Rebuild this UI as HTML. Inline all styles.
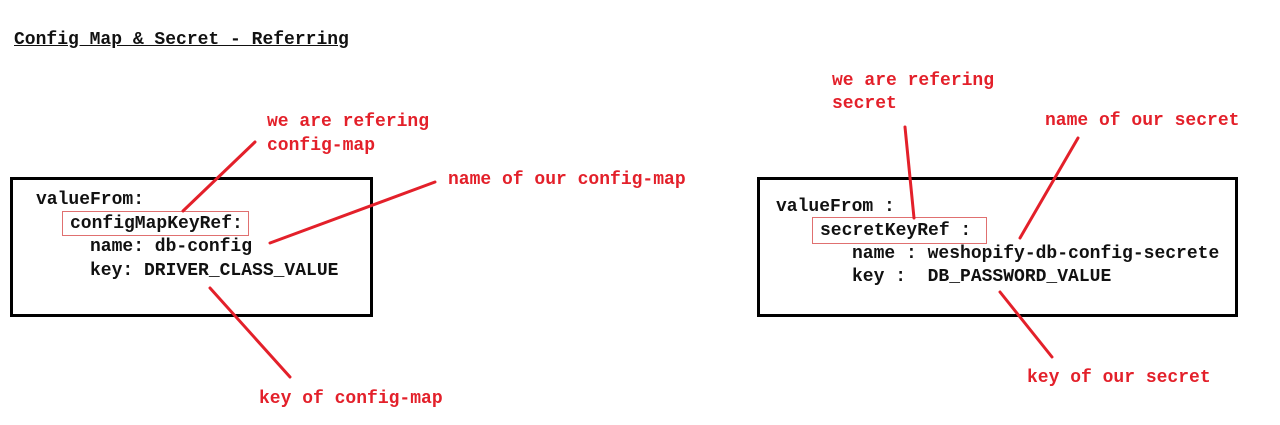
<!DOCTYPE html>
<html><head><style>
body{margin:0;width:1280px;height:425px;background:#fff;position:relative;overflow:hidden;font-family:"Liberation Mono",monospace;font-weight:bold;font-size:18px}
.t{position:absolute;white-space:pre;line-height:20px}
.k{color:#111}
.r{color:#e3202a}
.box{position:absolute;border:3px solid #000;box-sizing:border-box}
.rb{position:absolute;border:1px solid #e07070;box-sizing:border-box}
</style></head><body>
<div class="t k" style="left:14px;top:30px;text-decoration:underline">Config Map &amp; Secret - Referring</div>

<div class="box" style="left:10px;top:177px;width:363px;height:140px"></div>
<div class="rb" style="left:62px;top:211px;width:187px;height:25px"></div>
<div class="t k" style="left:36px;top:190px">valueFrom:</div>
<div class="t k" style="left:70px;top:214px">configMapKeyRef:</div>
<div class="t k" style="left:90px;top:237px">name: db-config</div>
<div class="t k" style="left:90px;top:261px">key: DRIVER_CLASS_VALUE</div>

<div class="box" style="left:757px;top:177px;width:481px;height:140px"></div>
<div class="rb" style="left:812px;top:217px;width:175px;height:27px"></div>
<div class="t k" style="left:776px;top:197px">valueFrom :</div>
<div class="t k" style="left:820px;top:221px">secretKeyRef :</div>
<div class="t k" style="left:852px;top:244px">name : weshopify-db-config-secrete</div>
<div class="t k" style="left:852px;top:267px">key :  DB_PASSWORD_VALUE</div>

<div class="t r" style="left:267px;top:112px">we are refering</div>
<div class="t r" style="left:267px;top:136px">config-map</div>
<div class="t r" style="left:448px;top:170px">name of our config-map</div>
<div class="t r" style="left:259px;top:389px">key of config-map</div>
<div class="t r" style="left:832px;top:71px">we are refering</div>
<div class="t r" style="left:832px;top:94px">secret</div>
<div class="t r" style="left:1045px;top:111px">name of our secret</div>
<div class="t r" style="left:1027px;top:368px">key of our secret</div>

<svg width="1280" height="425" style="position:absolute;left:0;top:0">
<g stroke="#e3202a" stroke-width="3" stroke-linecap="round">
<line x1="255" y1="142" x2="183" y2="211"/>
<line x1="435" y1="182" x2="270" y2="243"/>
<line x1="210" y1="288" x2="290" y2="377"/>
<line x1="905" y1="127" x2="914" y2="218"/>
<line x1="1078" y1="138" x2="1020" y2="238"/>
<line x1="1000" y1="292" x2="1052" y2="357"/>
</g></svg>
</body></html>
